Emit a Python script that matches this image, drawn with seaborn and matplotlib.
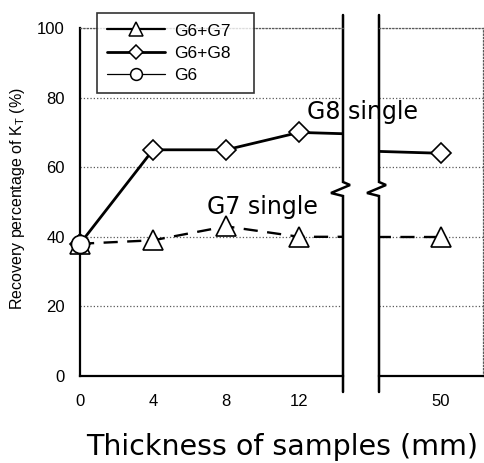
import matplotlib
matplotlib.use("Agg")
import matplotlib.pyplot as plt
from matplotlib.lines import Line2D
import pandas as pd
import seaborn as sns

# Recovery percentage of K_T versus sample thickness
thickness = [0, 4, 8, 12, 50]
g6_g7 = [38, 39, 43, 40, 40]
g6_g8 = [38, 65, 65, 70, 64]
g6_thickness = [0]
g6 = [38]

y_ticks = [0, 20, 40, 60, 80, 100]
x_ticks_left = [0, 4, 8, 12]
x_ticks_right = [50]

sns.set_theme(style="white")
plt.rcParams["font.family"] = ["Liberation Sans", "DejaVu Sans"]
plt.rcParams["mathtext.fontset"] = "custom"
plt.rcParams["mathtext.rm"] = "Liberation Sans"
for key in ("text.color", "axes.labelcolor", "xtick.color", "ytick.color"):
    plt.rcParams[key] = "black"

W, H = 484, 463
fig = plt.figure(figsize=(W / 100, H / 100), dpi=100)


def px_box(x0, x1, ytop, ybot):
    return [x0 / W, 1 - ybot / H, (x1 - x0) / W, (ybot - ytop) / H]


ax_l = fig.add_axes(px_box(80, 343, 28, 376))
ax_r = fig.add_axes(px_box(379, 483, 28, 376))

styles = {
    "G6+G8": dict(marker="D", ms=10.5, lw=2.0, linestyle="-", zorder=3),
    "G6+G7": dict(marker="^", ms=14.5, lw=1.7, linestyle=(0, (6, 4)), zorder=4),
    "G6": dict(marker="o", ms=13, lw=0.9, linestyle="-", zorder=5),
}
data = {
    "G6+G7": (thickness, g6_g7),
    "G6+G8": (thickness, g6_g8),
    "G6": (g6_thickness, g6),
}
xlims = {"left": (0, 14.4), "right": (46.6, 52.3)}

for side, ax in (("left", ax_l), ("right", ax_r)):
    lo, hi = xlims[side]
    for name in ["G6+G8", "G6+G7", "G6"]:
        xs, ys = data[name]
        st = styles[name]
        df = pd.DataFrame({"x": xs, "y": ys})
        # connecting line, clipped to the panel
        sns.lineplot(data=df, x="x", y="y", ax=ax, color="black", sort=False,
                     legend=False, marker=None, lw=st["lw"],
                     linestyle=st["linestyle"], zorder=st["zorder"])
        # open markers of the points inside this panel, drawn unclipped
        inside = df[(df["x"] >= lo) & (df["x"] <= hi)]
        sns.lineplot(data=inside, x="x", y="y", ax=ax, color="black",
                     sort=False, legend=False, linestyle="none",
                     marker=st["marker"], ms=st["ms"], mfc="white",
                     mec="black", mew=1.2, clip_on=False,
                     zorder=st["zorder"] + 0.5)

    ax.set_xlim(lo, hi)
    ax.set_ylim(0, 100)
    ax.set_yticks(y_ticks)
    ax.yaxis.grid(True, linestyle=":", color="0.35", lw=0.9)
    ax.set_axisbelow(True)
    ax.set_xlabel("")
    ax.set_ylabel("")
    for sp in ("left", "bottom"):
        ax.spines[sp].set_color("black")
        ax.spines[sp].set_linewidth(1.6)
    for sp in ("top", "right"):
        ax.spines[sp].set_linestyle(":")
        ax.spines[sp].set_color("0.35")
        ax.spines[sp].set_linewidth(0.9)
    ax.tick_params(axis="x", direction="in", length=4, width=1.2,
                   color="black", pad=13, labelsize=12)

ax_l.set_xticks(x_ticks_left)
ax_l.spines["right"].set_visible(False)
ax_l.tick_params(axis="y", length=0, pad=11, labelsize=12)

ax_r.set_xticks(x_ticks_right)
ax_r.spines["left"].set_visible(False)
ax_r.tick_params(axis="y", length=0, labelleft=False)


# axis-break lines with a zig-zag, offsets given in pixels from the plot bottom
def draw_break(ax, x_axes):
    pos = ax.get_position()
    w_px, h_px = pos.width * W, pos.height * H
    pts = [(0, 361), (0, 194), (7, 191), (-12, 183), (0, 180), (0, -16)]
    xs = [x_axes + dx / w_px for dx, _ in pts]
    ys = [dy / h_px for _, dy in pts]
    ax.add_line(Line2D(xs, ys, transform=ax.transAxes, color="black",
                       lw=1.8, clip_on=False, solid_joinstyle="miter"))


draw_break(ax_l, 1.0)
draw_break(ax_r, 0.0)

# legend
order = ["G6+G7", "G6+G8", "G6"]
handles = [
    Line2D([], [], color="black", lw=1.6, marker="^", ms=9.5,
           mfc="white", mec="black", mew=1.1),
    Line2D([], [], color="black", lw=2.0, marker="D", ms=7,
           mfc="white", mec="black", mew=1.1),
    Line2D([], [], color="black", lw=0.9, marker="o", ms=8.5,
           mfc="white", mec="black", mew=1.1),
]
leg = fig.legend(handles, order, loc="upper left",
                 bbox_to_anchor=(97 / W, 1 - 92 / H, 157 / W, 79 / H),
                 bbox_transform=fig.transFigure, mode="expand",
                 fontsize=12.5, frameon=True, fancybox=False,
                 edgecolor="black", handlelength=3.3, handletextpad=0.55,
                 labelspacing=0.4, borderpad=0.6, borderaxespad=0)
leg.get_frame().set_linewidth(1.2)
leg.set_zorder(10)

# annotations
fig.text(15.45, 76, "G8 single", transform=ax_l.transData, fontsize=17,
         family="DejaVu Sans", ha="center", va="center", zorder=6)
fig.text(10.0, 48.6, "G7 single", transform=ax_l.transData, fontsize=17,
         family="DejaVu Sans", ha="center", va="center", zorder=6)

fig.text(282 / W, 1 - 455 / H, "Thickness of samples (mm)", fontsize=20.5,
         family="DejaVu Sans", ha="center", va="baseline")
fig.text(18 / W, 1 - 199 / H, r"Recovery percentage of K$_\mathregular{T}$ (%)",
         fontsize=11.5, rotation=90, ha="center", va="center")

fig.savefig("out.png", dpi=100)
